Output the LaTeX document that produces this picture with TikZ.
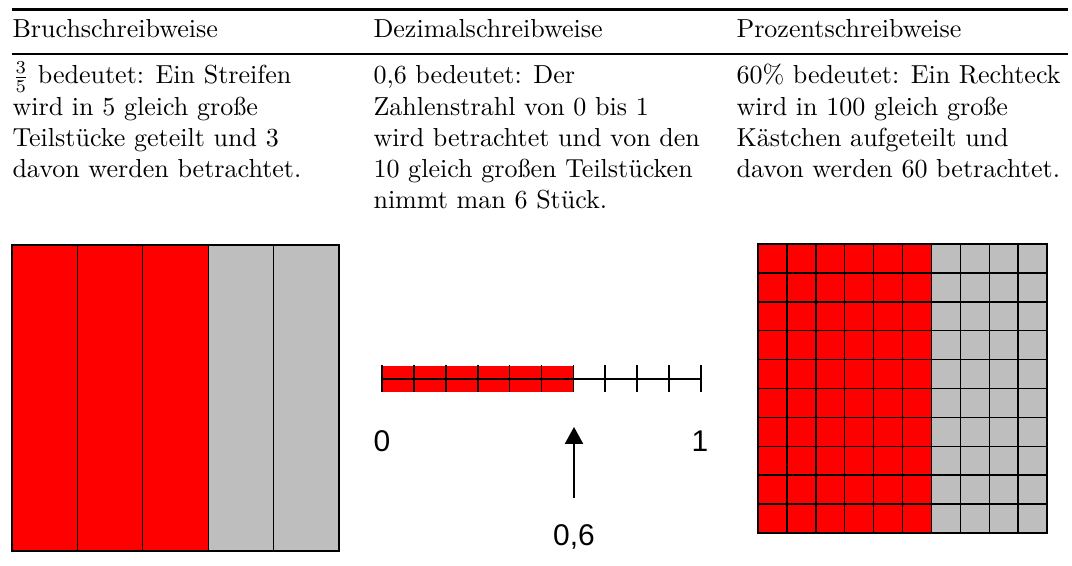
\documentclass[tikz,border=0pt]{standalone}
\usepackage{fontspec}
\newfontfamily\arialfont{Liberation Sans}
\usetikzlibrary{arrows.meta}
\definecolor{partred}{HTML}{FF0000}
\definecolor{partgray}{HTML}{BEBEBE}
\tikzset{
  txt/.style={anchor=base west, inner sep=0pt, font=\fontsize{10}{12}\selectfont},
  numlbl/.style={inner sep=0pt, font=\arialfont\fontsize{11.5}{13}\selectfont},
  cellline/.style={draw=black, line width=0.45pt},
  axis/.style={draw=black, line width=0.65pt},
}
\begin{document}
\begin{tikzpicture}[x=0.384pt,y=-0.384pt]
\useasboundingbox (0,0) rectangle (1072,566);
% rules
\draw[line width=0.8pt] (12,9.5) -- (1068,9.5);
\draw[line width=0.5pt] (12,54) -- (1068,54);
% headers
\node[txt] (h1) at (12,38) {Bruchschreibweise};
\node[txt] (h2) at (373,38) {Dezimalschreibweise};
\node[txt] (h3) at (736,38) {Prozentschreibweise};
% column 1
\node[txt] (a1) at (12,84) {$\frac{3}{5}$ bedeutet: Ein Streifen};
\node[txt] (a2) at (12,115.2) {wird in 5 gleich große};
\node[txt] (a3) at (12,146.4) {Teilstücke geteilt und 3};
\node[txt] (a4) at (12,177.6) {davon werden betrachtet.};
% column 2
\node[txt] (b1) at (373,84) {0,6 bedeutet: Der};
\node[txt] (b2) at (373,115.2) {Zahlenstrahl von 0 bis 1};
\node[txt] (b3) at (373,146.4) {wird betrachtet und von den};
\node[txt] (b4) at (373,177.6) {10 gleich großen Teilstücken};
\node[txt] (b5) at (373,208.8) {nimmt man 6 Stück.};
% column 3
\node[txt] (c1) at (736,84) {60\% bedeutet: Ein Rechteck};
\node[txt] (c2) at (736,115.2) {wird in 100 gleich große};
\node[txt] (c3) at (736,146.4) {Kästchen aufgeteilt und};
\node[txt] (c4) at (736,177.6) {davon werden 60 betrachtet.};
% strips
\foreach \i in {0,...,4}{
  \pgfmathsetmacro{\xa}{12+\i*65.4}
  \pgfmathsetmacro{\xb}{12+(\i+1)*65.4}
  \ifnum\i<3
    \filldraw[fill=partred, cellline] (\xa,245) rectangle (\xb,551);
  \else
    \filldraw[fill=partgray, cellline] (\xa,245) rectangle (\xb,551);
  \fi
}
% number line
\fill[partred] (382,366) rectangle (573.4,392);
\draw[axis] (382,379) -- (701,379);
\foreach \k in {0,...,10}{
  \draw[axis] ({382+\k*31.9},365) -- ({382+\k*31.9},392.5);
}
\node[numlbl] (n0) at (382,441) {0};
\node[numlbl] (n1) at (700,441) {1};
\node[numlbl] (n06) at (574,537) {0,6};
\coordinate (arrS) at (574,498);
\coordinate (arrT) at (574,427);
\draw[line width=0.6pt, -{Triangle[length=6.5pt,width=7pt]}] (arrS) -- (arrT);
% grid
\foreach \c in {0,...,9}{
  \foreach \r in {0,...,9}{
    \pgfmathsetmacro{\xa}{758+\c*28.9}
    \pgfmathsetmacro{\xb}{758+(\c+1)*28.9}
    \pgfmathsetmacro{\ya}{244+\r*28.9}
    \pgfmathsetmacro{\yb}{244+(\r+1)*28.9}
    \ifnum\c<6
      \filldraw[fill=partred, draw=black, line width=0.55pt] (\xa,\ya) rectangle (\xb,\yb);
    \else
      \filldraw[fill=partgray, draw=black, line width=0.55pt] (\xa,\ya) rectangle (\xb,\yb);
    \fi
  }
}
\end{tikzpicture}
\end{document}
